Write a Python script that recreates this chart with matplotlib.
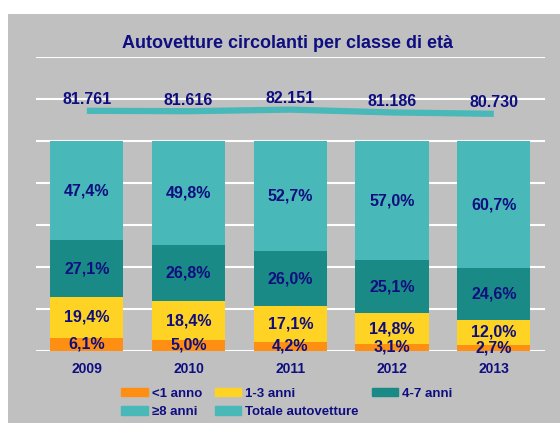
import matplotlib
matplotlib.use("Agg")
from matplotlib import pyplot as plt
from matplotlib.patches import Rectangle, Patch
import numpy as np

plt.rcParams['font.family'] = ['Liberation Sans', 'DejaVu Sans']

# data
years = ["2009", "2010", "2011", "2012", "2013"]
lt1 = [6.1, 5.0, 4.2, 3.1, 2.7]          # <1 anno
a1_3 = [19.4, 18.4, 17.1, 14.8, 12.0]    # 1-3 anni
a4_7 = [27.1, 26.8, 26.0, 25.1, 24.6]    # 4-7 anni
ge8 = [47.4, 49.8, 52.7, 57.0, 60.7]     # >=8 anni
totale = [81.761, 81.616, 82.151, 81.186, 80.730]  # migliaia

navy = "#0E0E80"
c_or = "#FF8F12"
c_ye = "#FFD323"
c_dk = "#1A8A86"
c_lt = "#48B8B8"

fig = plt.figure(figsize=(5.6, 4.23), dpi=100)
bg = Rectangle((8/560, 0), 1, (423-14)/423, transform=fig.transFigure,
               facecolor="#C0C0C0", edgecolor="none", zorder=-10)
fig.add_artist(bg)

ax = fig.add_axes([36/560, (423-350.5)/423, (544.7-36)/560, (350.5-57.3)/423])
ax.set_facecolor("none")
x = np.arange(len(years))
w = 0.72

series = [lt1, a1_3, a4_7, ge8]
colors = [c_or, c_ye, c_dk, c_lt]
bottom = np.zeros(len(years))
for vals, col in zip(series, colors):
    vals = np.array(vals)
    ax.bar(x, vals, w, bottom=bottom, color=col, zorder=3)
    for xi, b, v in zip(x, bottom, vals):
        ax.text(xi, b + v/2, ("%.1f%%" % v).replace(".", ","), ha="center", va="center",
                color=navy, fontsize=11.5, fontweight="bold", zorder=5)
    bottom += vals

ax.set_ylim(0, 140)
ax.set_xlim(-0.5, 4.5)
ax.set_yticks(range(0, 141, 20))
ax.yaxis.grid(True, color="white", linewidth=1.5, zorder=1)
ax.set_axisbelow(True)
ax.set_xticks(x)
ax.set_xticklabels(years, color=navy, fontsize=10, fontweight="bold")
for s in ax.spines.values():
    s.set_visible(False)

ax2 = ax.twinx()
ax2.set_ylim(0, 100)
ax2.plot(x, totale, color=c_lt, linewidth=4.5, zorder=4, solid_capstyle="butt")
for xi, v in zip(x, totale):
    ax2.annotate(("%.3f" % v), (xi, v), xytext=(0, 8), textcoords="offset points",
                 ha="center", va="center", color=navy, fontsize=11.5, fontweight="bold")
ax2.set_yticks([])
for s in ax2.spines.values():
    s.set_visible(False)

ax.tick_params(axis="y", left=False, labelleft=False, right=False)
ax.tick_params(axis="x", bottom=False, pad=5)

fig.text(287/560, (423-43)/423, "Autovetture circolanti per classe di età", ha="center",
         va="center", color=navy, fontsize=13, fontweight="bold")

handles = [Patch(color=c_or), Patch(color=c_lt), Patch(color=c_ye), Patch(color=c_lt), Patch(color=c_dk)]
labels = ["<1 anno", "≥8 anni", "1-3 anni", "Totale autovetture", "4-7 anni"]
leg = fig.legend(handles, labels, ncol=3, loc="center", bbox_to_anchor=(287/560, 20/423),
                 frameon=False, prop={"size": 9.5, "weight": "bold"}, handlelength=2.0,
                 handleheight=0.65, handletextpad=0.3, columnspacing=1.0, labelspacing=0.5,
                 borderpad=0)
for t in leg.get_texts():
    t.set_color(navy)

fig.savefig("out.png", dpi=100)
